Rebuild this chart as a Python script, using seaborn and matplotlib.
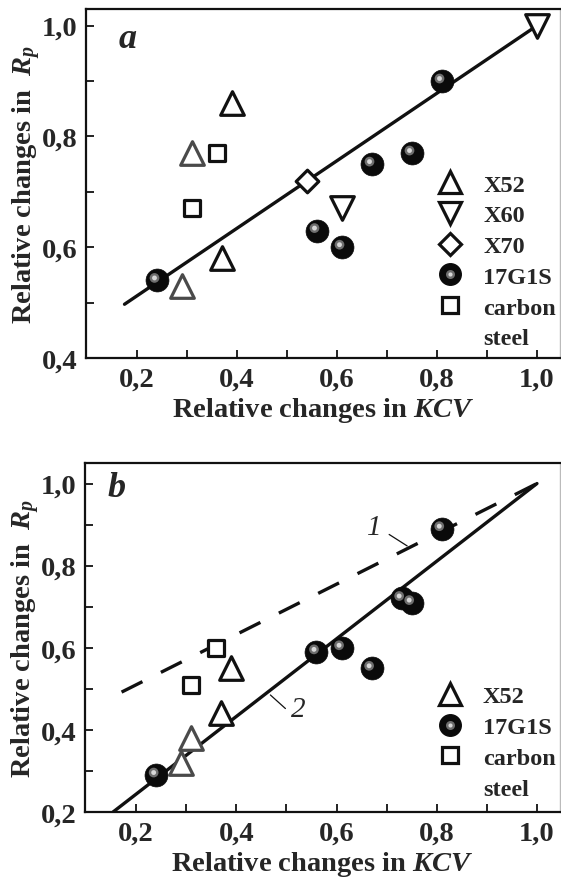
import numpy as np
import pandas as pd
import matplotlib
matplotlib.use("Agg")
import matplotlib.pyplot as plt
import seaborn as sns
from matplotlib.lines import Line2D
from matplotlib.transforms import offset_copy

# ---------------- data: panel a ----------------
a_x52_x = [0.39, 0.37]
a_x52_y = [0.86, 0.58]
a_x52g_x = [0.31, 0.29]
a_x52g_y = [0.77, 0.53]
a_x60_x = [1.00, 0.61]
a_x60_y = [1.00, 0.67]
a_x70_x = [0.54]
a_x70_y = [0.72]
a_g17_x = [0.24, 0.56, 0.61, 0.67, 0.75, 0.81]
a_g17_y = [0.54, 0.63, 0.60, 0.75, 0.77, 0.90]
a_cs_x = [0.36, 0.31]
a_cs_y = [0.77, 0.67]
a_fit_x = [0.175, 1.0]
a_fit_y = [0.497, 1.0]

# ---------------- data: panel b ----------------
b_x52_x = [0.39, 0.37]
b_x52_y = [0.55, 0.44]
b_x52g_x = [0.31, 0.29]
b_x52g_y = [0.38, 0.32]
b_g17_x = [0.24, 0.56, 0.61, 0.67, 0.73, 0.75, 0.81]
b_g17_y = [0.29, 0.59, 0.60, 0.55, 0.72, 0.71, 0.89]
b_cs_x = [0.36, 0.31]
b_cs_y = [0.60, 0.51]
b_line1_x = [0.171, 1.0]
b_line1_y = [0.492, 1.0]
b_line2_x = [0.154, 1.0]
b_line2_y = [0.20, 1.0]

x_ticks = [0.2, 0.4, 0.6, 0.8, 1.0]
a_y_ticks = [0.4, 0.6, 0.8, 1.0]
b_y_ticks = [0.2, 0.4, 0.6, 0.8, 1.0]

sns.set_theme(style="ticks")
plt.rcParams["font.family"] = ["Liberation Serif", "DejaVu Serif"]
plt.rcParams["font.weight"] = "bold"
plt.rcParams["mathtext.fontset"] = "custom"
plt.rcParams["mathtext.rm"] = "Liberation Serif:bold"
plt.rcParams["mathtext.it"] = "Liberation Serif:bold:italic"
plt.rcParams["mathtext.bf"] = "Liberation Serif:bold"
plt.rcParams["mathtext.sf"] = "Liberation Serif:italic"

W, H = 561, 879
fig = plt.figure(figsize=(W / 100, H / 100), dpi=100)

LW = 2.4
EW = 2.3
BLACK = "#111111"
GRAY = "#4a4a4a"
LEG_FS = 17.5


def px_ax(left, top, bottom, right):
    return [left / W, 1 - bottom / H, (right - left) / W, (bottom - top) / H]

ax_a = fig.add_axes(px_ax(86, 10, 359, 559.5))
ax_b = fig.add_axes(px_ax(85, 464, 813, 559.5))


def spheres(ax, xs, ys):
    df = pd.DataFrame({"x": xs, "y": ys})
    sns.scatterplot(data=df, x="x", y="y", ax=ax, marker="o", s=16.5**2,
                    color="#0a0a0a", edgecolor="#0a0a0a", linewidth=0.5, zorder=5)
    t1 = offset_copy(ax.transData, fig=fig, x=-2.5, y=2.5, units="dots")
    sns.scatterplot(data=df, x="x", y="y", ax=ax, marker="o", s=7**2,
                    color="#6e6e6e", edgecolor="none", linewidth=0, zorder=6, transform=t1)
    sns.scatterplot(data=df, x="x", y="y", ax=ax, marker="o", s=3.5**2,
                    color="#d8d8d8", edgecolor="none", linewidth=0, zorder=7, transform=t1)


def open_marker(ax, xs, ys, marker, size, ec):
    df = pd.DataFrame({"x": xs, "y": ys})
    sns.scatterplot(data=df, x="x", y="y", ax=ax, marker=marker, s=size**2,
                    facecolor="white", edgecolor=ec, linewidth=EW, zorder=4)


def style_axes(ax, ylim, yticks, minor_y):
    ax.set_xlim(0.098, 1.045)
    ax.set_ylim(*ylim)
    ax.set_xticks(x_ticks)
    ax.set_xticks([0.3, 0.5, 0.7, 0.9], minor=True)
    ax.set_yticks(yticks)
    ax.set_yticks(minor_y, minor=True)
    ax.set_xticklabels([f"{v:.1f}".replace(".", ",") for v in x_ticks])
    ax.set_yticklabels([f"{v:.1f}".replace(".", ",") for v in yticks])
    ax.tick_params(which="both", direction="in", length=6, width=1.3, color=BLACK,
                   labelsize=20.5, pad=6, top=False, right=False)
    for lab in ax.get_xticklabels() + ax.get_yticklabels():
        lab.set_fontweight("bold")
    for s in ax.spines.values():
        s.set_linewidth(1.6)
        s.set_color(BLACK)
        s.set_visible(True)
    ax.spines["right"].set_color("#bbbbbb")
    ax.spines["right"].set_linewidth(1.0)
    ax.set_xlabel("Relative changes in $\\mathit{KCV}$", fontsize=20.5, fontweight="bold", labelpad=3)
    ax.set_ylabel("Relative changes in  $\\mathit{R}_{\\mathsf{p}}$", fontsize=20.5, fontweight="bold", labelpad=-1)
    ax.grid(False)


def sphere_handle():
    return (Line2D([], [], marker="o", ls="none", markersize=15.5, color="#0a0a0a"),
            Line2D([], [], marker="o", ls="none", markersize=6.5, color="#6e6e6e", markeredgewidth=0),
            Line2D([], [], marker="o", ls="none", markersize=3, color="#d8d8d8", markeredgewidth=0))


def hnd(marker, size):
    return Line2D([], [], marker=marker, ls="none", markersize=size,
                  markerfacecolor="white", markeredgecolor=BLACK, markeredgewidth=EW)

blank = Line2D([], [], ls="none", marker=None)
leg_kw = dict(loc="upper left", frameon=False,
              prop={"family": "Liberation Serif", "weight": "bold", "size": LEG_FS},
              handlelength=1.2, handletextpad=0.77, labelspacing=0.36, borderpad=0)

# ---------------- panel a ----------------
sns.lineplot(x=a_fit_x, y=a_fit_y, ax=ax_a, color=BLACK, linewidth=LW, zorder=3)
open_marker(ax_a, a_x52_x, a_x52_y, "^", 17, BLACK)
open_marker(ax_a, a_x52g_x, a_x52g_y, "^", 17, GRAY)
open_marker(ax_a, a_x60_x, a_x60_y, "v", 17, BLACK)
open_marker(ax_a, a_x70_x, a_x70_y, "D", 11.5, BLACK)
open_marker(ax_a, a_cs_x, a_cs_y, "s", 11.5, BLACK)
spheres(ax_a, a_g17_x, a_g17_y)
style_axes(ax_a, (0.4, 1.03), a_y_ticks, [0.5, 0.7, 0.9])
ax_a.text(0.087, 0.89, "a", transform=ax_a.transAxes, fontsize=26,
          fontweight="bold", fontstyle="italic", va="baseline", ha="center")

handles_a = [hnd("^", 16), hnd("v", 16), hnd("D", 11), sphere_handle(), hnd("s", 11), blank]
labels_a = ["X52", "X60", "X70", "17G1S", "carbon", "steel"]
ax_a.legend(handles_a, labels_a, bbox_to_anchor=(0.712, 0.563), **leg_kw)

# ---------------- panel b ----------------
sns.lineplot(x=b_line2_x, y=b_line2_y, ax=ax_b, color=BLACK, linewidth=LW, zorder=3)
sns.lineplot(x=b_line1_x, y=b_line1_y, ax=ax_b, color=BLACK, linewidth=LW, zorder=3)
ax_b.lines[-1].set_dashes((7, 6.2))
open_marker(ax_b, b_x52_x, b_x52_y, "^", 17, BLACK)
open_marker(ax_b, b_x52g_x, b_x52g_y, "^", 17, GRAY)
open_marker(ax_b, b_cs_x, b_cs_y, "s", 11.5, BLACK)
spheres(ax_b, b_g17_x, b_g17_y)
style_axes(ax_b, (0.2, 1.05), b_y_ticks, [0.3, 0.5, 0.7, 0.9])
ax_b.text(0.067, 0.905, "b", transform=ax_b.transAxes, fontsize=26,
          fontweight="bold", fontstyle="italic", va="baseline", ha="center")

# curve labels and leader lines
ax_b.text(0.676, 0.894, "1", fontsize=21, fontstyle="italic", fontweight="normal",
          ha="center", va="center")
ax_b.text(0.523, 0.452, "2", fontsize=21, fontstyle="italic", fontweight="normal",
          ha="center", va="center")
ax_b.annotate("", xy=(0.741, 0.848), xytext=(0.705, 0.876),
              arrowprops=dict(arrowstyle="-", color=BLACK, lw=0.9, shrinkA=0, shrinkB=0))
ax_b.annotate("", xy=(0.498, 0.452), xytext=(0.468, 0.485),
              arrowprops=dict(arrowstyle="-", color=BLACK, lw=0.9, shrinkA=0, shrinkB=0))

handles_b = [hnd("^", 16), sphere_handle(), hnd("s", 11), blank]
labels_b = ["X52", "17G1S", "carbon", "steel"]
ax_b.legend(handles_b, labels_b, bbox_to_anchor=(0.712, 0.398), **leg_kw)

fig.savefig("out.png", dpi=100)
